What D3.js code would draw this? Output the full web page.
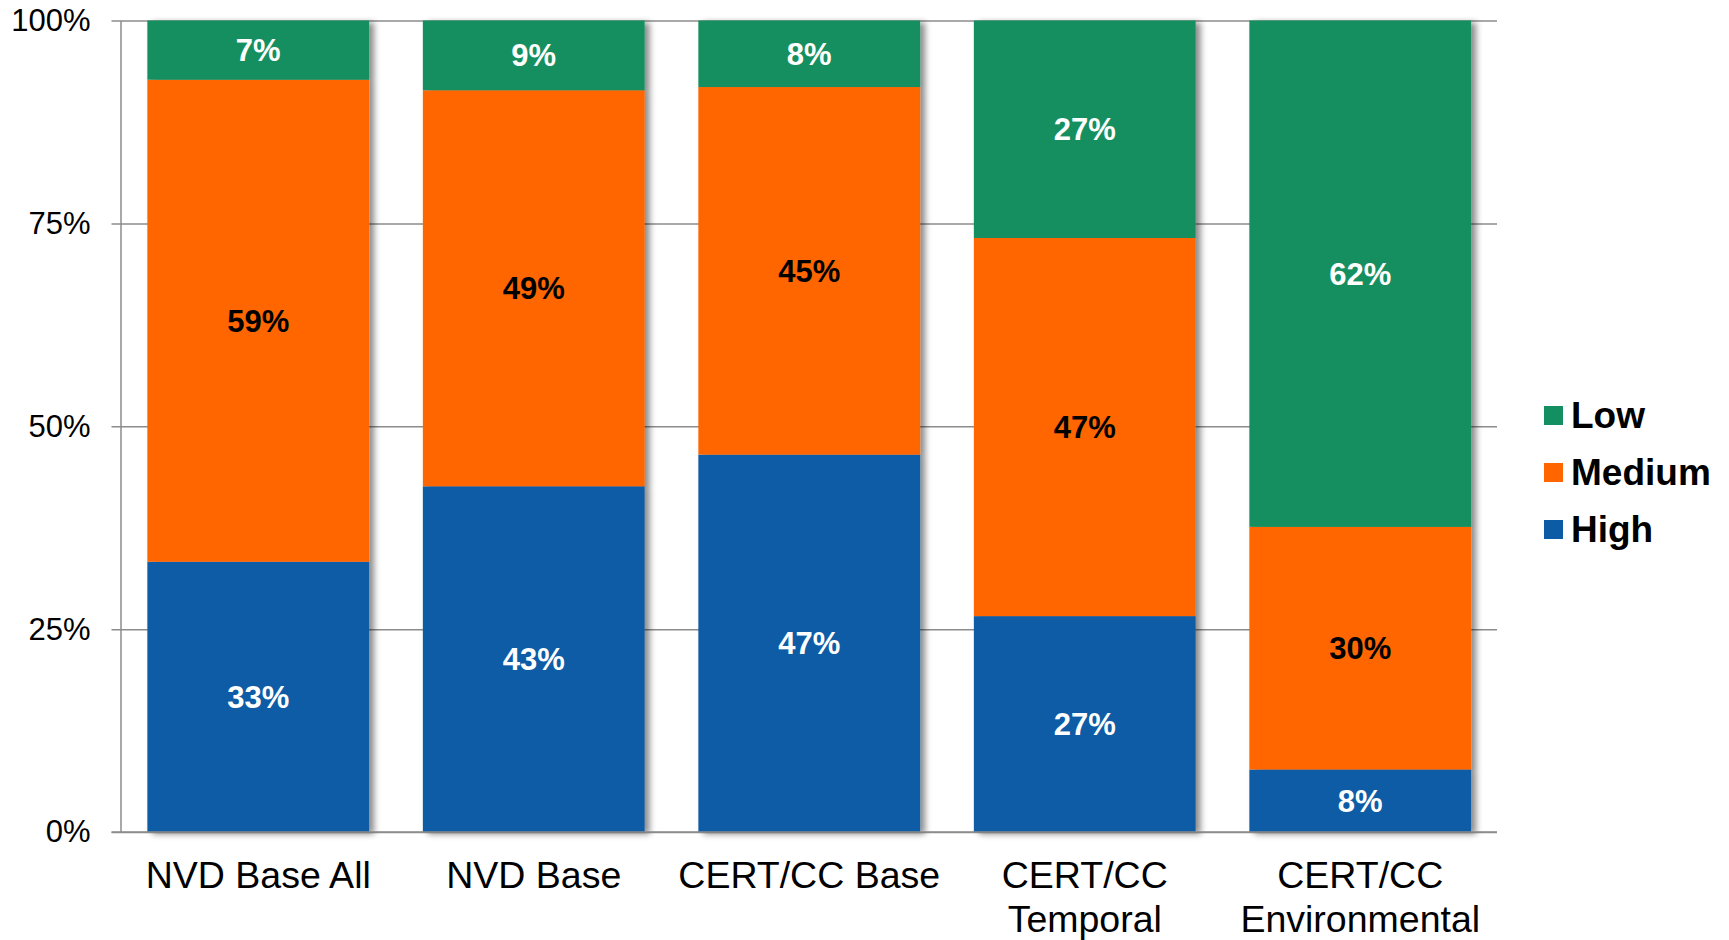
<!DOCTYPE html>
<html>
<head>
<meta charset="utf-8">
<script src="https://cdn.jsdelivr.net/npm/d3@7"></script>
<style>
  body { margin: 0; background: #fff; }
  text { font-family: "Liberation Sans", Arial, sans-serif; }
</style>
</head>
<body>
<div id="chart"></div>
<script>
// data
const categories = ["NVD Base All", "NVD Base", "CERT/CC Base", "CERT/CC\nTemporal", "CERT/CC\nEnvironmental"];
const high = [33.3, 42.6, 46.5, 26.6, 7.7];
const medium = [59.4, 48.8, 45.3, 46.6, 29.9];
const low = [7.3, 8.6, 8.2, 26.8, 62.4];
const yTicks = [0, 25, 50, 75, 100];
const seriesNames = ["High", "Medium", "Low"];
const seriesColors = ["#0c5ca5", "#ff6600", "#148f61"];
const labelColors = ["#fff", "#000", "#fff"];

let width = 1729,
  height = 940;
let plotLeft = 120.5, plotTop = 20.5, plotRight = 1497, plotBottom = 832;

let svg = d3.select("#chart")
  .append("svg")
  .attr("width", width)
  .attr("height", height);

let defs = svg.append("defs");
defs.append("filter")
  .attr("id", "shadow")
  .attr("x", "-10%").attr("y", "-10%")
  .attr("width", "130%").attr("height", "130%")
  .append("feDropShadow")
  .attr("dx", 5)
  .attr("dy", 2)
  .attr("stdDeviation", 3)
  .attr("flood-color", "#000")
  .attr("flood-opacity", 0.45);

let rows = categories.map((c, i) => ({ cat: c, High: high[i], Medium: medium[i], Low: low[i] }));
let stacked = d3.stack().keys(seriesNames)(rows);

let x = d3.scaleBand()
  .domain(categories)
  .range([plotLeft, plotRight + 1])
  .paddingInner(0.195)
  .paddingOuter(0.0975);

let y = d3.scaleLinear()
  .domain([0, 100])
  .range([plotBottom, plotTop]);

// gridlines + y axis
let yAxis = svg.append("g")
  .attr("transform", `translate(${plotLeft},0)`)
  .call(d3.axisLeft(y).tickValues(yTicks).tickFormat(d => d + "%").tickSizeOuter(0).tickPadding(24));
yAxis.select(".domain").attr("stroke", "#8c8c8c").attr("stroke-width", 1.5);
yAxis.selectAll(".tick line")
  .attr("x1", -9)
  .attr("x2", plotRight - plotLeft)
  .attr("stroke", "#8c8c8c")
  .attr("stroke-width", 1.5);
yAxis.selectAll(".tick text")
  .attr("font-size", 31)
  .attr("fill", "#000")
  .style("font-family", "'Liberation Sans', Arial, sans-serif");

// bars
let barGroups = svg.append("g")
  .selectAll("g")
  .data(categories)
  .join("g")
  .attr("filter", "url(#shadow)");

barGroups.each(function (cat, i) {
  let g = d3.select(this);
  stacked.forEach((s, k) => {
    g.append("rect")
      .attr("x", x(cat))
      .attr("width", x.bandwidth())
      .attr("y", y(s[i][1]))
      .attr("height", y(s[i][0]) - y(s[i][1]))
      .attr("fill", seriesColors[k]);
  });
});

// bottom axis line on top of bars
svg.append("line")
  .attr("x1", plotLeft - 9)
  .attr("x2", plotRight)
  .attr("y1", plotBottom)
  .attr("y2", plotBottom)
  .attr("stroke", "#8c8c8c")
  .attr("stroke-width", 1.5);

// value labels
stacked.forEach((s, k) => {
  svg.append("g")
    .selectAll("text")
    .data(s)
    .join("text")
    .attr("x", (d, i) => x(categories[i]) + x.bandwidth() / 2)
    .attr("y", d => (y(d[0]) + y(d[1])) / 2 + 11)
    .attr("text-anchor", "middle")
    .attr("font-size", 31)
    .attr("font-weight", "bold")
    .attr("fill", labelColors[k])
    .text(d => Math.round(d[1] - d[0]) + "%");
});

// category labels
svg.append("g")
  .selectAll("text")
  .data(categories)
  .join("text")
  .attr("x", d => x(d) + x.bandwidth() / 2)
  .attr("y", 888)
  .attr("text-anchor", "middle")
  .attr("font-size", 37.5)
  .attr("fill", "#000")
  .each(function (d) {
    let t = d3.select(this);
    d.split("\n").forEach((line, j) => {
      t.append("tspan")
        .attr("x", x(d) + x.bandwidth() / 2)
        .attr("dy", j === 0 ? 0 : 43.5)
        .text(line);
    });
  });

// legend
let legendItems = ["Low", "Medium", "High"];
let legend = svg.append("g")
  .selectAll("g")
  .data(legendItems)
  .join("g")
  .attr("transform", (d, i) => `translate(1544,${406 + i * 57})`);

legend.append("rect")
  .attr("width", 19)
  .attr("height", 19)
  .attr("fill", d => seriesColors[seriesNames.indexOf(d)]);

legend.append("text")
  .attr("x", 27)
  .attr("y", 22)
  .attr("font-size", 37)
  .attr("font-weight", "bold")
  .attr("fill", "#000")
  .text(d => d);
</script>
</body>
</html>
